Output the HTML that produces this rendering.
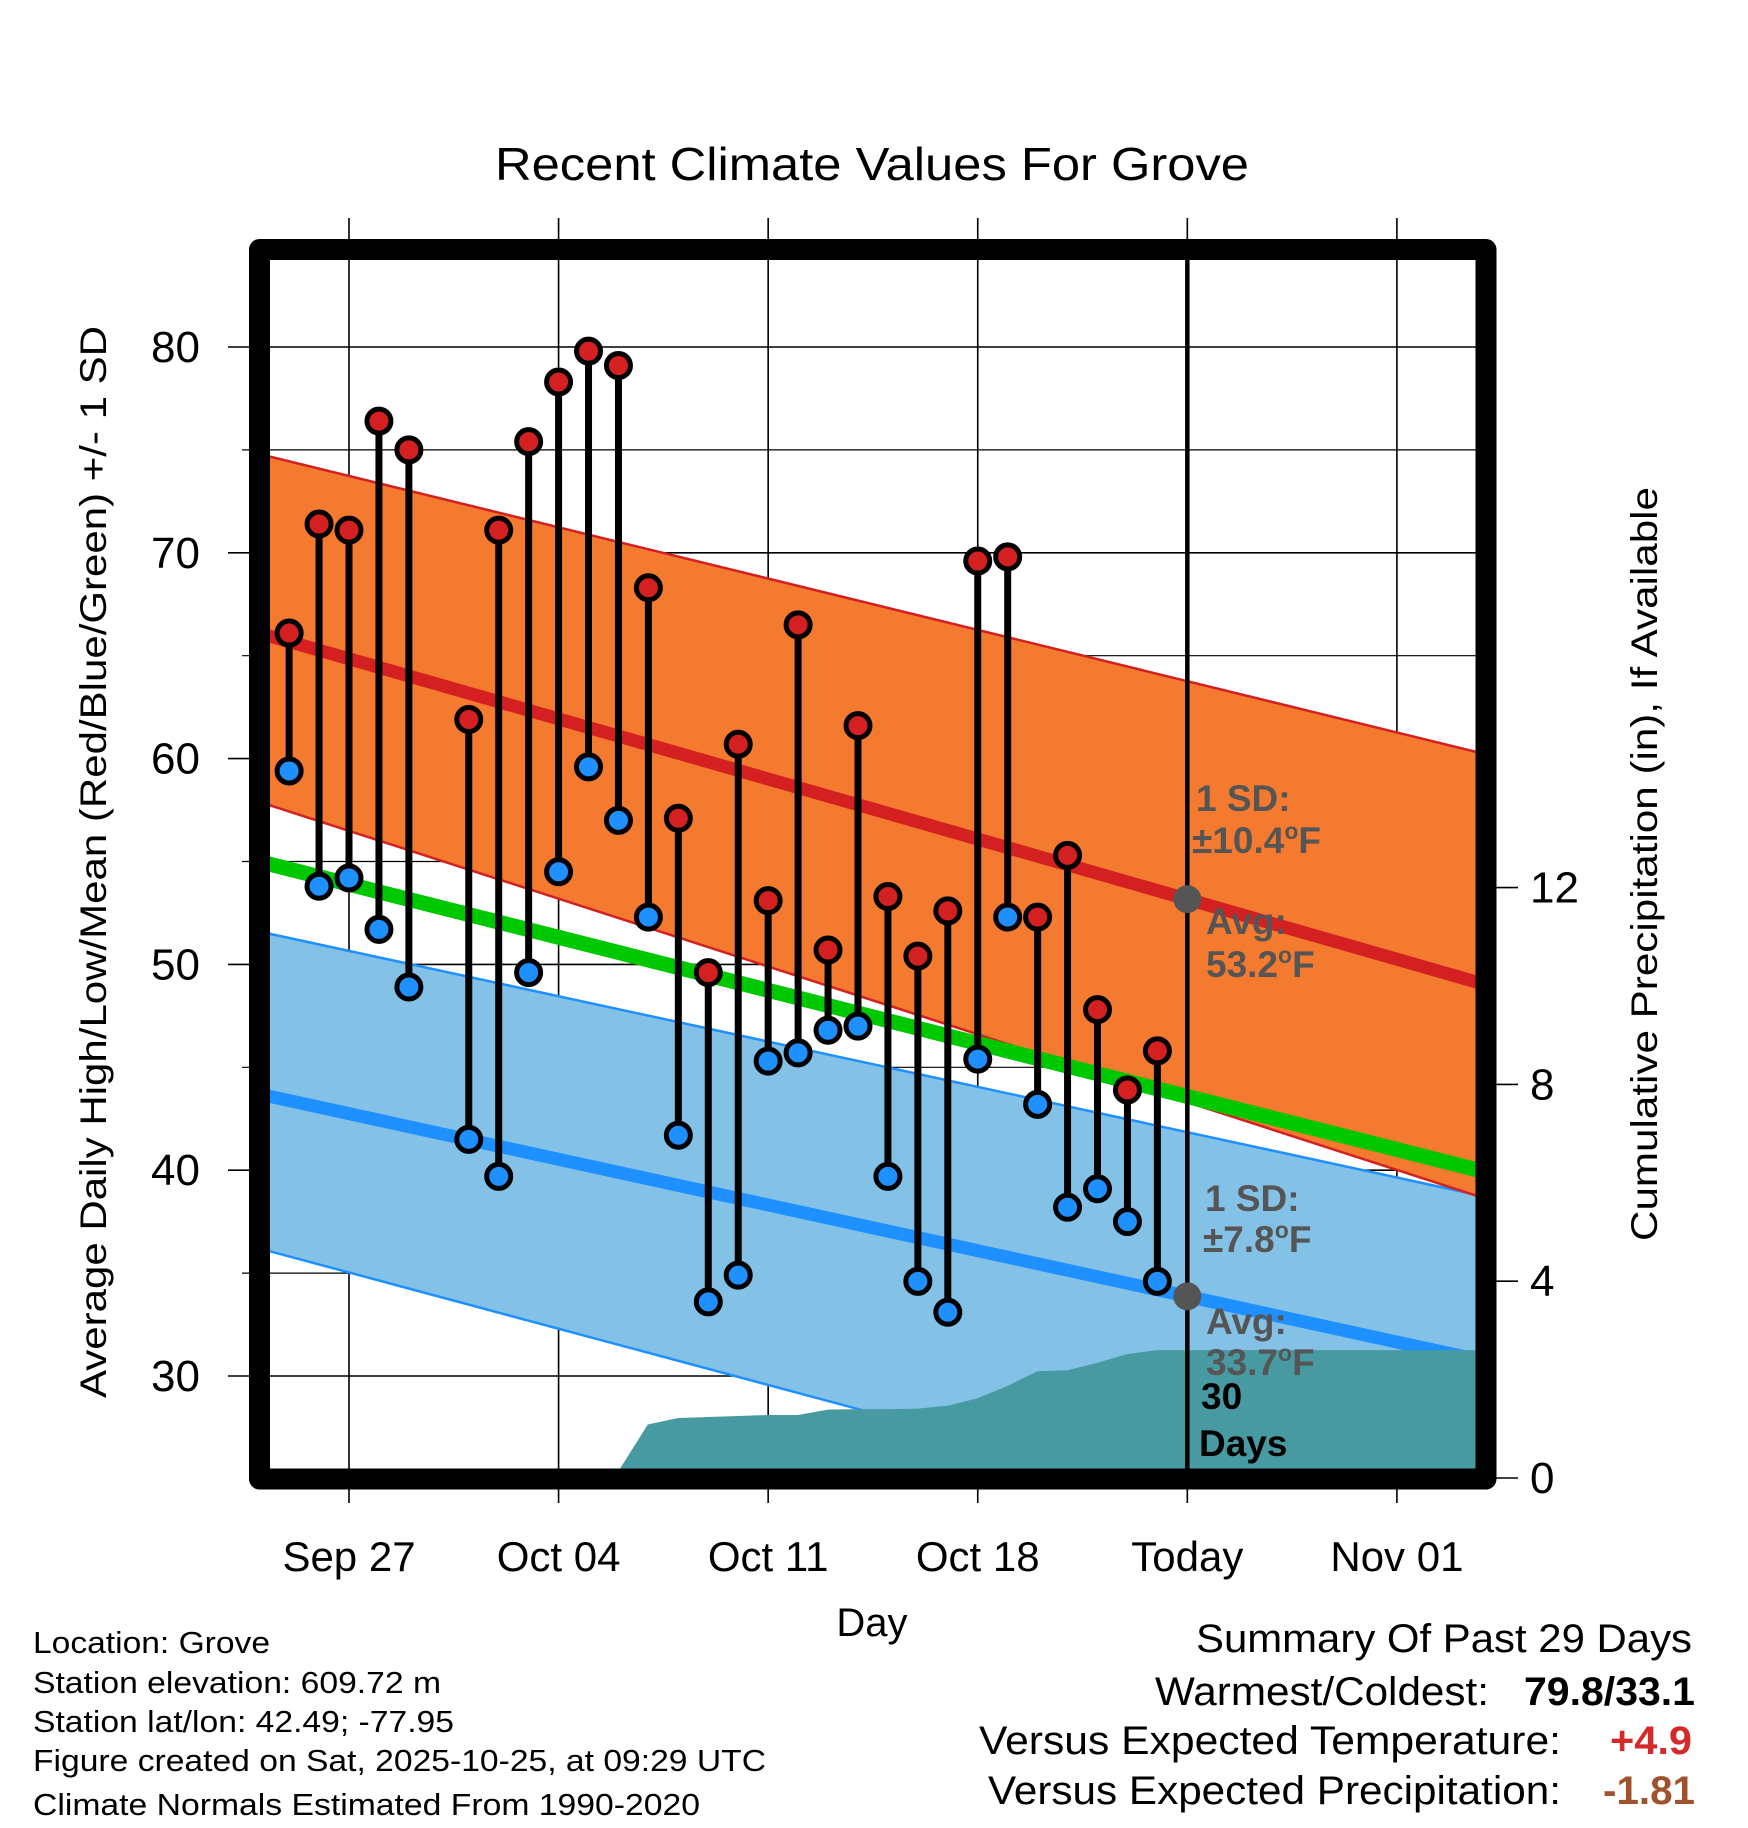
<!DOCTYPE html>
<html><head><meta charset="utf-8"><style>
html,body{margin:0;padding:0;background:#fff;}
svg{display:block;font-family:"Liberation Sans",Arial,sans-serif;}
</style></head><body>
<svg id="chart" width="1748" height="1828" viewBox="0 0 1748 1828" xmlns="http://www.w3.org/2000/svg">
<defs><clipPath id="plotclip"><rect x="259.5" y="249.5" width="1226.5" height="1229.5"/></clipPath></defs>
<g id="grid"></g>
<g id="bands" clip-path="url(#plotclip)"></g>
<g id="marks"></g>
<g id="axes"></g>
<text x="495" y="180" font-size="46" textLength="754" lengthAdjust="spacingAndGlyphs">Recent Climate Values For Grove</text>
<text transform="translate(106,1398) rotate(-90)" font-size="37" textLength="1072" lengthAdjust="spacingAndGlyphs">Average Daily High/Low/Mean (Red/Blue/Green) +/- 1 SD</text>
<text transform="translate(1657,1241) rotate(-90)" font-size="37" textLength="754" lengthAdjust="spacingAndGlyphs">Cumulative Precipitation (in), If Available</text>
<text x="872" y="1636" font-size="40" text-anchor="middle">Day</text>
<g font-size="31" lengthAdjust="spacingAndGlyphs">
<text x="33" y="1653" textLength="237" lengthAdjust="spacingAndGlyphs">Location: Grove</text>
<text x="33" y="1693" textLength="408" lengthAdjust="spacingAndGlyphs">Station elevation: 609.72 m</text>
<text x="33" y="1732" textLength="421" lengthAdjust="spacingAndGlyphs">Station lat/lon: 42.49; -77.95</text>
<text x="33" y="1771" textLength="733" lengthAdjust="spacingAndGlyphs">Figure created on Sat, 2025-10-25, at 09:29 UTC</text>
<text x="33" y="1815" textLength="667" lengthAdjust="spacingAndGlyphs">Climate Normals Estimated From 1990-2020</text>
</g>
<g font-size="40">
<text x="1196" y="1652" textLength="496" lengthAdjust="spacingAndGlyphs">Summary Of Past 29 Days</text>
<text x="1155" y="1705" textLength="334" lengthAdjust="spacingAndGlyphs">Warmest/Coldest:</text>
<text x="1524" y="1705" textLength="171" lengthAdjust="spacingAndGlyphs" font-weight="bold">79.8/33.1</text>
<text x="979" y="1754" textLength="582" lengthAdjust="spacingAndGlyphs">Versus Expected Temperature:</text>
<text x="1610" y="1754" textLength="82" lengthAdjust="spacingAndGlyphs" font-weight="bold" fill="#d42a2a">+4.9</text>
<text x="988" y="1804" textLength="573" lengthAdjust="spacingAndGlyphs">Versus Expected Precipitation:</text>
<text x="1603" y="1804" textLength="92" lengthAdjust="spacingAndGlyphs" font-weight="bold" fill="#a0522d">-1.81</text>
</g>
</svg>
<script>
const days=[-2,-1,0,1,2,4,5,6,7,8,9,10,11,12,13,14,15,16,17,18,19,20,21,22,23,24,25,26,27];
const highs=[66.1,71.4,71.1,76.4,75.0,61.9,71.1,75.4,78.3,79.8,79.1,68.3,57.1,49.6,60.7,53.1,66.5,50.7,61.6,53.3,50.4,52.6,69.6,69.8,52.3,55.3,47.8,43.9,45.8];
const lows=[59.4,53.8,54.2,51.7,48.9,41.5,39.7,49.6,54.5,59.6,57.0,52.3,41.7,33.6,34.9,45.3,45.7,46.8,47.0,39.7,34.6,33.1,45.4,52.3,43.2,38.2,39.1,37.5,34.6];
const precipDays=[-3,8,9,10,11,12,13,14,15,16,17,18,19,20,21,22,23,24,25,26,27,38];
const precipCum=[0,0,0.1,1.07,1.2,1.22,1.24,1.26,1.26,1.37,1.38,1.38,1.39,1.45,1.6,1.85,2.15,2.17,2.32,2.5,2.58,2.58];
const normDays=[-3,38];
const hiUpper=[74.8,60.2], hiMean=[66.1,49.0], hiLower=[57.9,38.6];
const loUpper=[51.6,38.7], loMean=[43.7,30.7], loLower=[36.2,20.2];
const avgMean=[55.0,39.9];
const xTickDays=[0,7,14,21,28,35];
const xTickLabels=["Sep 27","Oct 04","Oct 11","Oct 18","Today","Nov 01"];
const yTicks=[30,40,50,60,70,80];
const yMinor=[35,45,55,65,75];
const pTicks=[0,4,8,12];
const todayDay=28;

const NS="http://www.w3.org/2000/svg";
const X=d=>349+d*29.94;
const Y=t=>347+(80-t)*20.58;
const YP=p=>1478-p*49.2;
const L=259.5,R=1486,T=249.5,B=1479;
function mk(tag,attrs,parent){const e=document.createElementNS(NS,tag);for(const k in attrs)e.setAttribute(k,attrs[k]);parent.appendChild(e);return e;}
const grid=document.getElementById('grid'),bands=document.getElementById('bands'),marks=document.getElementById('marks'),axes=document.getElementById('axes');

xTickDays.forEach((d,i)=>{
  const l=mk('line',{x1:X(d),x2:X(d),y1:218,y2:1503,stroke:'#000','stroke-width':1.6},grid);
  
  
  const t=mk('text',{x:X(d),y:1571,'font-size':42,'text-anchor':'middle'},axes);
  t.textContent=xTickLabels[i];
  
  
});
yTicks.forEach(v=>{
  const l=mk('line',{x1:228,x2:R,y1:Y(v),y2:Y(v),stroke:'#000','stroke-width':1.6},grid);
  
  
  const t=mk('text',{x:200,y:Y(v)+15,'font-size':44,'text-anchor':'end'},axes);
  t.textContent=v;
  
  
});
yMinor.forEach(v=>{
  const l=mk('line',{x1:242,x2:R,y1:Y(v),y2:Y(v),stroke:'#000','stroke-width':1.2},grid);
  
  
});
pTicks.forEach(v=>{
  const l=mk('line',{x1:1486,x2:1518,y1:YP(v),y2:YP(v),stroke:'#000','stroke-width':1.6},axes);
  
  
  const t=mk('text',{x:1530,y:YP(v)+15,'font-size':44},axes);
  t.textContent=v;
  
  
});

function band(up,lo,fill,stroke,name){
  const pts=[[X(normDays[0]),Y(up[0])],[X(normDays[1]),Y(up[1])],[X(normDays[1]),Y(lo[1])],[X(normDays[0]),Y(lo[0])]];
  const p=mk('polygon',{points:pts.map(a=>a.join(',')).join(' '),fill:fill},bands);
  
  
  [up,lo].forEach(a=>{const l=mk('line',{x1:X(normDays[0]),y1:Y(a[0]),x2:X(normDays[1]),y2:Y(a[1]),stroke:stroke,'stroke-width':2.5},bands);
    
    });
}
function mline(a,color,w,name){
  const l=mk('line',{x1:X(normDays[0]),y1:Y(a[0]),x2:X(normDays[1]),y2:Y(a[1]),stroke:color,'stroke-width':w},bands);
  
  
}
band(loUpper,loLower,'#84c1e6','#1e90ff','low-sd-band');
band(hiUpper,hiLower,'#f47a2f','#d42020','high-sd-band');
mline(loMean,'#1e90ff',13,'low-normal-line');
mline(hiMean,'#d42020',13,'high-normal-line');
mline(avgMean,'#00c800',15,'mean-normal-line');
let pp=precipDays.map((d,i)=>X(d)+','+YP(precipCum[i])).join(' ');
pp+=' '+X(precipDays[precipDays.length-1])+','+B+' '+X(precipDays[0])+','+B;
const pa=mk('polygon',{points:pp,fill:'#489aa2',stroke:'#489aa2','stroke-width':2},bands);



const ann=[["1 SD:",1196,811,'#555'],["±10.4°F",1192,853,'#555'],["Avg:",1206,934,'#555'],["53.2°F",1206,977,'#555'],
["1 SD:",1205,1211,'#555'],["±7.8°F",1203,1252,'#555'],["Avg:",1206,1334,'#555'],["33.7°F",1206,1375,'#555'],
["30",1201,1409,'#000'],["Days",1199,1456,'#000']];
ann.forEach(a=>{
  const t=mk('text',{x:a[1],y:a[2],'font-size':37,'font-weight':'bold',fill:a[3]},marks);
  if(a[0].endsWith('°F')){t.textContent=a[0].slice(0,-2);const s=mk('tspan',{'font-size':23,dy:-14},t);s.textContent='o';const f=mk('tspan',{dy:14},t);f.textContent='F';}
  else t.textContent=a[0];
  
  
});

const tl=mk('line',{x1:X(todayDay),x2:X(todayDay),y1:T,y2:B,stroke:'#000','stroke-width':4.5},marks);


[hiMean,loMean].forEach(a=>{
  const v=a[0]+(a[1]-a[0])*(todayDay-normDays[0])/(normDays[1]-normDays[0]);
  const c=mk('circle',{cx:X(todayDay),cy:Y(v),r:14,fill:'#555'},marks);
  
  
});

days.forEach((d,i)=>{
  const s=mk('line',{x1:X(d),x2:X(d),y1:Y(highs[i]),y2:Y(lows[i]),stroke:'#000','stroke-width':7},marks);
  
  
});
days.forEach((d,i)=>{
  const h=mk('circle',{cx:X(d),cy:Y(highs[i]),r:12,fill:'#d42020',stroke:'#000','stroke-width':5},marks);
  
  
  const l=mk('circle',{cx:X(d),cy:Y(lows[i]),r:12,fill:'#1e90ff',stroke:'#000','stroke-width':5},marks);
  
  
});

const fr=mk('rect',{x:L,y:T,width:R-L,height:B-T,fill:'none',stroke:'#000','stroke-width':21,'stroke-linejoin':'round'},axes);


</script>
</body></html>
